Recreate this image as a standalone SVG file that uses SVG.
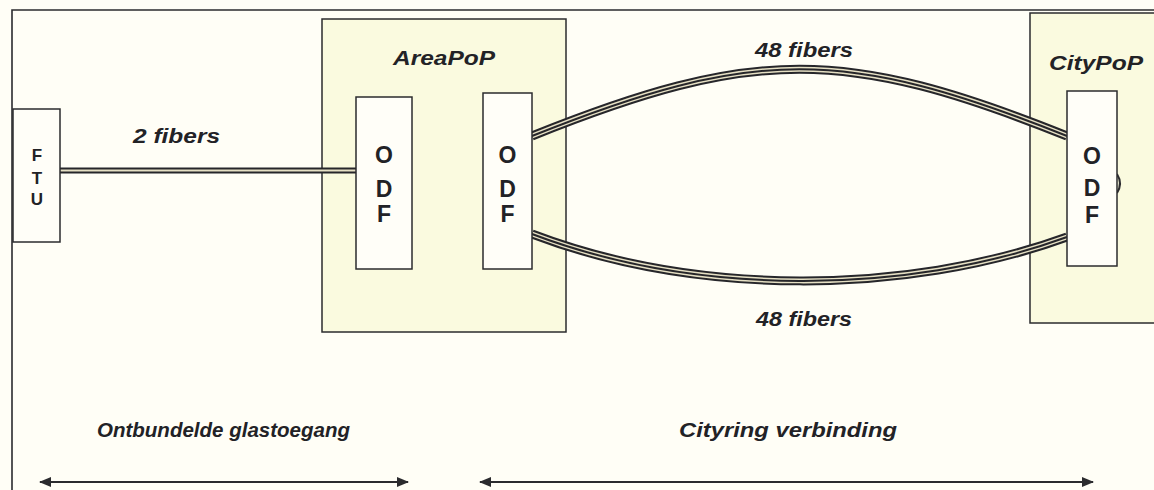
<svg xmlns="http://www.w3.org/2000/svg" width="1154" height="490" viewBox="0 0 1154 490">
<defs>
<style>
.frame{fill:none;stroke:#2b2b2e;stroke-width:1.6}
.pop{fill:#fafadf;stroke:#2b2b2e;stroke-width:1.5}
.box{fill:#fffef8;stroke:#2b2b2e;stroke-width:1.5}
.lbl{font-family:"Liberation Sans",Arial,sans-serif;font-weight:bold;font-style:italic;fill:#222226}
.let{font-family:"Liberation Sans",Arial,sans-serif;font-weight:bold;fill:#222226;text-anchor:middle}
.fo{fill:none;stroke:#26262a;stroke-width:9}
.fm{fill:none;stroke:#e6e0c4;stroke-width:5}
.fi{fill:none;stroke:#26262a;stroke-width:2}
.arr{stroke:#2b2b2e;stroke-width:2;fill:none}
</style>
<marker id="ah" viewBox="0 0 12 10" refX="11" refY="5" markerWidth="12" markerHeight="10" markerUnits="userSpaceOnUse" orient="auto-start-reverse">
<path d="M0,0 L12,5 L0,10 Z" fill="#2b2b2e"/>
</marker>
</defs>
<rect x="0" y="0" width="1154" height="490" fill="#fffef6"/>
<path class="frame" d="M12,490 V10 H1154"/>
<g id="areapop">
<rect class="pop" x="322" y="19" width="244" height="313"/>
<text class="lbl" x="393" y="65" font-size="20.5" textLength="102" lengthAdjust="spacingAndGlyphs">AreaPoP</text>
</g>
<g id="citypop">
<rect class="pop" x="1030" y="13" width="140" height="310"/>
<text class="lbl" x="1049" y="70" font-size="21" textLength="94" lengthAdjust="spacingAndGlyphs">CityPoP</text>
</g>
<g id="connectors">
<path class="fo" d="M60,170.5 H356" style="stroke-width:6"/>
<path class="fm" d="M60,170.5 H356" style="stroke-width:2"/>
<path class="fo" d="M532,136 C754,47 845,47 1067,136"/>
<path class="fm" d="M532,136 C754,47 845,47 1067,136"/>
<path class="fi" d="M532,136 C754,47 845,47 1067,136"/>
<path class="fo" d="M532,234 C695,296 905,296 1067,237"/>
<path class="fm" d="M532,234 C695,296 905,296 1067,237"/>
<path class="fi" d="M532,234 C695,296 905,296 1067,237"/>
<path class="arr" d="M1117,174 Q1123,183.5 1117,193"/>
<line class="arr" x1="40" y1="482" x2="408" y2="482" marker-start="url(#ah)" marker-end="url(#ah)"/>
<line class="arr" x1="480" y1="482" x2="1093" y2="482" marker-start="url(#ah)" marker-end="url(#ah)"/>
</g>
<g id="ftu">
<rect class="box" x="13" y="109" width="47" height="133"/>
<text class="let" x="37" y="161" font-size="17">F</text>
<text class="let" x="37" y="184" font-size="17">T</text>
<text class="let" x="37" y="205" font-size="17">U</text>
</g>
<g id="odf1">
<rect class="box" x="356" y="97" width="56" height="172"/>
<text class="let" x="384" y="163" font-size="23">O</text>
<text class="let" x="384" y="197" font-size="23">D</text>
<text class="let" x="384" y="222" font-size="23">F</text>
</g>
<g id="odf2">
<rect class="box" x="483" y="93" width="49" height="176"/>
<text class="let" x="507.5" y="163" font-size="23">O</text>
<text class="let" x="507.5" y="197" font-size="23">D</text>
<text class="let" x="507.5" y="222" font-size="23">F</text>
</g>
<g id="odf3">
<rect class="box" x="1067" y="91" width="50" height="175"/>
<text class="let" x="1092" y="164" font-size="23">O</text>
<text class="let" x="1092" y="196" font-size="23">D</text>
<text class="let" x="1092" y="223" font-size="23">F</text>
</g>
<g id="labels">
<text class="lbl" x="133" y="143" font-size="21" textLength="87" lengthAdjust="spacingAndGlyphs">2 fibers</text>
<text class="lbl" x="755" y="57" font-size="20.5" textLength="98" lengthAdjust="spacingAndGlyphs">48 fibers</text>
<text class="lbl" x="756" y="326" font-size="20.5" textLength="96" lengthAdjust="spacingAndGlyphs">48 fibers</text>
<text class="lbl" x="97" y="437" font-size="19.5" textLength="253" lengthAdjust="spacingAndGlyphs">Ontbundelde glastoegang</text>
<text class="lbl" x="679" y="437" font-size="20" textLength="218" lengthAdjust="spacingAndGlyphs">Cityring verbinding</text>
</g>
</svg>
